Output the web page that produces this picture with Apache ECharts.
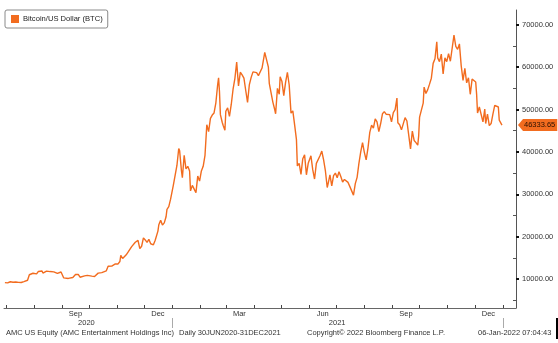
<!DOCTYPE html>
<html>
<head>
<meta charset="utf-8">
<script src="https://cdn.jsdelivr.net/npm/echarts@6/dist/echarts.min.js"></script>
<style>html,body{margin:0;padding:0;background:#fff}#c{width:558px;height:343px}</style>
</head>
<body>
<div id="c"></div>
<script>
const seriesName = 'Bitcoin/US Dollar (BTC)';
const dates = [
'2020-06-30','2020-07-03','2020-07-06','2020-07-09','2020-07-12','2020-07-15','2020-07-18','2020-07-21','2020-07-23','2020-07-25','2020-07-27','2020-07-29','2020-07-31',
'2020-08-02','2020-08-04','2020-08-06','2020-08-08','2020-08-10','2020-08-11','2020-08-13','2020-08-15','2020-08-17','2020-08-19','2020-08-21','2020-08-23','2020-08-25','2020-08-27','2020-08-29','2020-08-31',
'2020-09-02','2020-09-03','2020-09-05','2020-09-08','2020-09-10','2020-09-13','2020-09-16','2020-09-19','2020-09-21','2020-09-23','2020-09-26','2020-09-29',
'2020-10-01','2020-10-04','2020-10-07','2020-10-09','2020-10-11','2020-10-13','2020-10-15','2020-10-17','2020-10-20','2020-10-22','2020-10-24','2020-10-26','2020-10-28','2020-10-30','2020-10-31',
'2020-11-02','2020-11-04','2020-11-05','2020-11-07','2020-11-09','2020-11-11','2020-11-13','2020-11-15','2020-11-17','2020-11-19','2020-11-21','2020-11-23','2020-11-24','2020-11-26','2020-11-28','2020-11-30',
'2020-12-02','2020-12-04','2020-12-06','2020-12-08','2020-12-11','2020-12-13','2020-12-15','2020-12-16','2020-12-17','2020-12-19','2020-12-21','2020-12-23','2020-12-25','2020-12-26','2020-12-28','2020-12-30','2020-12-31',
'2021-01-02','2021-01-04','2021-01-06','2021-01-08','2021-01-09','2021-01-11','2021-01-12','2021-01-14','2021-01-16','2021-01-18','2021-01-20','2021-01-21','2021-01-23','2021-01-25','2021-01-27','2021-01-29','2021-01-31',
'2021-02-02','2021-02-04','2021-02-06','2021-02-08','2021-02-10','2021-02-12','2021-02-14','2021-02-16','2021-02-18','2021-02-20','2021-02-21','2021-02-22','2021-02-23','2021-02-25','2021-02-26','2021-02-28',
'2021-03-01','2021-03-03','2021-03-05','2021-03-07','2021-03-09','2021-03-11','2021-03-13','2021-03-15','2021-03-17','2021-03-19','2021-03-21','2021-03-23','2021-03-25','2021-03-27','2021-03-29','2021-03-31',
'2021-04-02','2021-04-04','2021-04-06','2021-04-08','2021-04-10','2021-04-12','2021-04-13','2021-04-15','2021-04-17','2021-04-18','2021-04-20','2021-04-22','2021-04-24','2021-04-25','2021-04-27','2021-04-29','2021-04-30',
'2021-05-02','2021-05-04','2021-05-06','2021-05-08','2021-05-10','2021-05-12','2021-05-14','2021-05-16','2021-05-18','2021-05-19','2021-05-21','2021-05-23','2021-05-25','2021-05-27','2021-05-29','2021-05-31',
'2021-06-03','2021-06-05','2021-06-07','2021-06-09','2021-06-11','2021-06-13','2021-06-15','2021-06-17','2021-06-19','2021-06-21','2021-06-22','2021-06-24','2021-06-26','2021-06-28','2021-06-30',
'2021-07-02','2021-07-04','2021-07-06','2021-07-08','2021-07-10','2021-07-12','2021-07-14','2021-07-16','2021-07-18','2021-07-20','2021-07-22','2021-07-24','2021-07-26','2021-07-28','2021-07-30',
'2021-08-01','2021-08-03','2021-08-05','2021-08-07','2021-08-09','2021-08-11','2021-08-13','2021-08-15','2021-08-17','2021-08-19','2021-08-21','2021-08-23','2021-08-25','2021-08-27','2021-08-29','2021-08-31',
'2021-09-02','2021-09-04','2021-09-06','2021-09-07','2021-09-09','2021-09-11','2021-09-13','2021-09-15','2021-09-17','2021-09-19','2021-09-21','2021-09-23','2021-09-25','2021-09-27','2021-09-29','2021-09-30',
'2021-10-01','2021-10-03','2021-10-05','2021-10-06','2021-10-08','2021-10-10','2021-10-12','2021-10-14','2021-10-16','2021-10-18','2021-10-20','2021-10-21','2021-10-23','2021-10-25','2021-10-27','2021-10-29','2021-10-31',
'2021-11-02','2021-11-04','2021-11-06','2021-11-08','2021-11-10','2021-11-12','2021-11-14','2021-11-16','2021-11-18','2021-11-20','2021-11-22','2021-11-24','2021-11-26','2021-11-28','2021-11-30',
'2021-12-02','2021-12-03','2021-12-04','2021-12-06','2021-12-08','2021-12-10','2021-12-12','2021-12-13','2021-12-15','2021-12-17','2021-12-19','2021-12-21','2021-12-23','2021-12-25','2021-12-27','2021-12-28','2021-12-30','2021-12-31'
];
const values = [
9137,9070,9350,9240,9300,9200,9170,9390,9600,9700,11000,11110,11350,
11070,11200,11780,11770,11880,11400,11580,11850,12250,11750,11540,11680,11370,11320,11520,11650,
11400,10250,10170,10130,10380,10340,11050,11080,10420,10240,10730,10840,
10620,10670,10600,11060,11380,11430,11500,11360,11920,12990,13120,13030,13280,13560,13780,
13550,14130,15580,14830,15300,15700,16320,15960,17650,17800,18680,18360,19100,17150,17730,19700,
19220,18650,19360,18320,18060,19160,19430,21300,22800,23870,22720,23240,24700,26440,27080,28840,29000,
32100,31970,36800,40800,40250,35500,33900,39200,36000,36600,35500,30800,32100,32300,30400,34300,33100,
35500,36600,39200,46400,44800,47900,48700,49200,51600,55900,57500,54200,48800,47000,46300,45100,
49600,50400,48400,51200,54800,57300,61200,55600,58800,58200,57400,54500,51700,55900,57600,58900,
59000,58700,58000,58000,59800,59800,63500,63100,60000,56200,56470,51700,50000,49000,55000,53600,57750,
56600,53300,56400,58800,55800,49150,49700,46400,42900,36700,37300,34700,38400,39300,34600,37300,
39100,35800,33600,37300,37300,39100,40200,38100,35500,31600,32500,34600,32000,34400,35000,
33900,35300,34200,32900,33500,33200,32800,31800,31800,29800,32500,34000,37300,40000,42200,
39900,38100,40900,44600,46300,45600,47800,47100,44800,46700,49000,49500,48900,49000,48800,47100,
49300,50000,52700,46900,46400,45200,44900,48100,47300,47300,40700,44900,42700,42200,41600,43800,
48200,48200,51500,55300,53800,54700,56000,57400,60900,62000,66000,62200,61300,63100,58400,62200,61300,
63200,61400,61500,67550,64900,64200,65500,60300,56900,59700,56300,57500,53600,57200,57000,
56500,53600,49200,50600,50600,47100,50100,46700,48900,46200,46700,48900,51000,50800,50600,47500,47100,46333.65
];
const yMajorTicks = [10000,20000,30000,40000,50000,60000,70000];
const yMinorTicks = [5000,15000,25000,35000,45000,55000,65000];
const monthTickDates = ['2020-07-01','2020-08-01','2020-09-01','2020-10-01','2020-11-01','2020-12-01','2021-01-01','2021-02-01','2021-03-01','2021-04-01','2021-05-01','2021-06-01','2021-07-01','2021-08-01','2021-09-01','2021-10-01','2021-11-01','2021-12-01','2022-01-01'];
const monthLabelDates = ['2020-09-16','2020-12-16','2021-03-16','2021-06-16','2021-09-16','2021-12-16'];
const monthNames = ['Jan','Feb','Mar','Apr','May','Jun','Jul','Aug','Sep','Oct','Nov','Dec'];
const yearLabelDates = ['2020-09-28','2021-07-02'];
const yearSepDates = ['2021-01-01','2022-01-01'];
const footerTexts = ['AMC US Equity (AMC Entertainment Holdings Inc)','Daily 30JUN2020-31DEC2021','Copyright\u00a9 2022 Bloomberg Finance L.P.','06-Jan-2022 07:04:43'];

const ts = s => { const p = s.split('-').map(Number); return Date.UTC(p[0], p[1]-1, p[2]); };
const data = dates.map((d,i) => [ts(d), values[i]]);
const lastVal = values[values.length-1];
const xMin = Date.UTC(2020,5,29);
const xMax = Date.UTC(2022,0,15,12);
const FONT = 'Liberation Sans';
const orange = '#F26C1F';

const chart = echarts.init(document.getElementById('c'));
chart.setOption({
  animation: false,
  backgroundColor: '#fff',
  textStyle: {fontFamily: FONT},
  legend: {
    left: 5, top: 10, orient: 'horizontal',
    padding: [5,5,5,6],
    itemWidth: 8, itemHeight: 8, itemGap: 4,
    icon: 'rect',
    borderColor: '#8a8a8a', borderWidth: 1, borderRadius: 2,
    textStyle: {fontFamily: FONT, fontSize: 7.6, color: '#222', padding: [0,0,0,-1], lineHeight: 8},
    data: [seriesName]
  },
  grid: {left: 4, right: 42, top: 10, bottom: 35, containLabel: false},
  xAxis: [{
    type: 'value', min: xMin, max: xMax, position: 'bottom',
    axisLine: {show: true, lineStyle: {color: '#666', width: 1}},
    axisTick: {show: true, inside: true, length: 3, lineStyle: {color: '#444'}, customValues: monthTickDates.map(ts)},
    axisLabel: {show: true, margin: 2, fontSize: 7.5, color: '#333', fontFamily: FONT,
      customValues: monthLabelDates.map(ts),
      formatter: v => monthNames[new Date(v).getUTCMonth()]},
    splitLine: {show: false}
  },{
    type: 'value', min: xMin, max: xMax, position: 'bottom', offset: 10,
    axisLine: {show: false},
    axisTick: {show: true, inside: false, length: 10, lineStyle: {color: '#aaa'}, customValues: yearSepDates.map(ts)},
    axisLabel: {show: true, margin: 1, fontSize: 7.5, color: '#333', fontFamily: FONT,
      customValues: yearLabelDates.map(ts),
      formatter: v => String(new Date(v).getUTCFullYear())},
    splitLine: {show: false}
  }],
  yAxis: [{
    type: 'value', position: 'right', min: 3150, max: 73500,
    axisLine: {show: true, lineStyle: {color: '#555', width: 1}},
    axisTick: {show: true, inside: false, length: 3, lineStyle: {color: '#111', width: 2}, customValues: yMajorTicks},
    axisLabel: {show: true, margin: 6, fontSize: 7.5, color: '#333', fontFamily: FONT,
      customValues: yMajorTicks, formatter: v => v.toFixed(2)},
    splitLine: {show: false}
  },{
    type: 'value', position: 'right', min: 3150, max: 73500,
    axisLine: {show: false},
    axisTick: {show: true, inside: true, length: 3, lineStyle: {color: '#555'}, customValues: yMinorTicks},
    axisLabel: {show: false},
    splitLine: {show: false}
  }],
  series: [{
    name: seriesName, type: 'line', data: data,
    xAxisIndex: 0, yAxisIndex: 0,
    showSymbol: false, symbol: 'none',
    lineStyle: {color: orange, width: 1.4},
    itemStyle: {color: orange},
    markLine: {
      silent: true,
      symbol: ['none','triangle'], symbolSize: [12,5], symbolRotate: 90,
      symbolOffset: [[0,0],[0,4.5]],
      lineStyle: {color: orange, width: 0, opacity: 1},
      data: [{yAxis: lastVal}],
      label: {show: true, position: 'end', distance: 7, opacity: 1,
        formatter: () => '{b|' + lastVal.toFixed(2) + '}',
        color: '#2a1000', fontFamily: FONT, fontSize: 7.5,
        rich: {
          b: {backgroundColor: orange, color: '#2a1000', fontFamily: FONT, fontSize: 7.5,
              padding: [2,2,2,1], lineHeight: 8}
        }}
    }
  }],
  graphic: [
    {type: 'text', left: 6, top: 329, style: {text: footerTexts[0], font: '7.5px ' + FONT, fill: '#333'}},
    {type: 'text', left: 179, top: 329, style: {text: footerTexts[1], font: '7.5px ' + FONT, fill: '#333'}},
    {type: 'text', left: 307, top: 329, style: {text: footerTexts[2], font: '7.5px ' + FONT, fill: '#333'}},
    {type: 'text', left: 478, top: 329, style: {text: footerTexts[3], font: '7.5px ' + FONT, fill: '#333'}},
    {type: 'rect', left: 556, top: 318, shape: {width: 2, height: 21}, style: {fill: '#000'}}
  ]
});
</script>
</body>
</html>
